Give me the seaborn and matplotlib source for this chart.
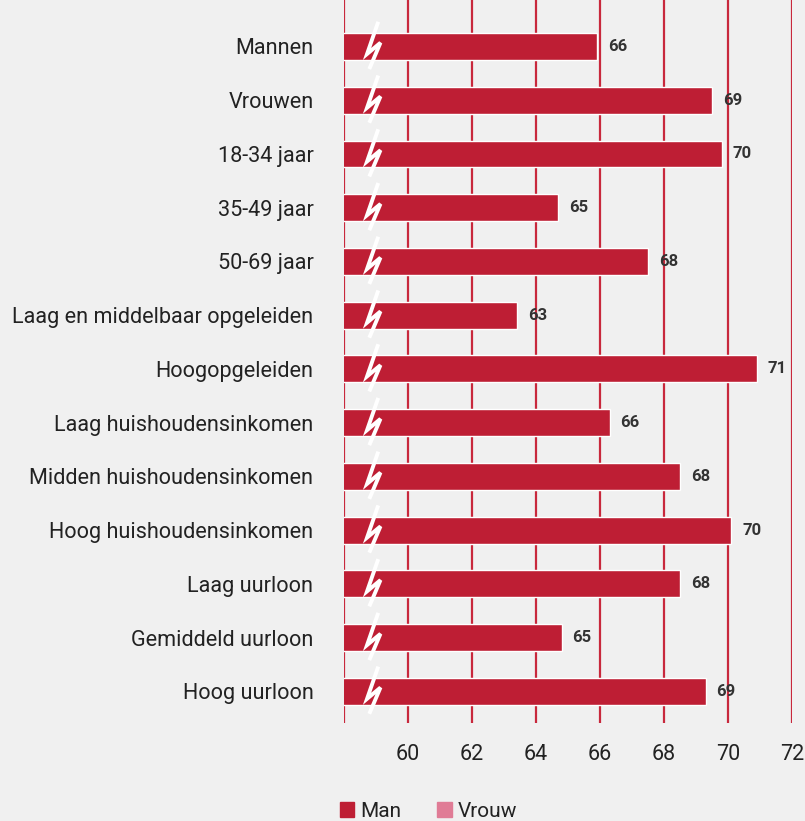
import matplotlib
matplotlib.use("Agg")
import matplotlib.pyplot as plt
from matplotlib.patches import Patch
import seaborn as sns
import pandas as pd

# data
categories = ["Mannen", "Vrouwen", "18-34 jaar", "35-49 jaar", "50-69 jaar",
              "Laag en middelbaar opgeleiden", "Hoogopgeleiden",
              "Laag huishoudensinkomen", "Midden huishoudensinkomen",
              "Hoog huishoudensinkomen", "Laag uurloon", "Gemiddeld uurloon",
              "Hoog uurloon"]
values = [65.9, 69.5, 69.8, 64.7, 67.5, 63.4, 70.9, 66.3, 68.5, 70.1, 68.5, 64.8, 69.3]
labels = [66, 69, 70, 65, 68, 63, 71, 66, 68, 70, 68, 65, 69]
ticks = [58, 60, 62, 64, 66, 68, 70, 72]
tick_labels = ["", "60", "62", "64", "66", "68", "70", "72"]
legend_names = ["Man", "Vrouw"]

red = "#be1e34"
pink = "#e07c96"
bg = "#f0f0f0"

sns.set_style("white")
plt.rcParams['font.family'] = ['Roboto', 'DejaVu Sans']

df = pd.DataFrame({"cat": categories, "val": values})

fig = plt.figure(figsize=(8.05, 8.21), dpi=100, facecolor=bg)
ax = fig.add_axes([344 / 805, 1 - 723 / 821, 448 / 805, 723 / 821])
ax.set_facecolor(bg)

sns.barplot(data=df, y="cat", x="val", orient="h", color=red, saturation=1,
            width=0.5, ax=ax, zorder=3)

ax.set_xlim(58, 72)
ax.set_ylim(12.59, -0.865)
ax.set_xticks(ticks)
ax.set_xticklabels(tick_labels)
ax.xaxis.grid(True, color="#c8283c", lw=1.6, zorder=0)
ax.set_axisbelow(True)
for s in ax.spines.values():
    s.set_visible(False)
ax.tick_params(axis="x", length=0, pad=15, labelsize=15.5, colors="#222222")
ax.tick_params(axis="y", length=0, pad=22, labelsize=15.6, colors="#222222")
ax.set_xlabel("")
ax.set_ylabel("")

# value labels
for i, (v, lab) in enumerate(zip(values, labels)):
    ax.text(v + 0.34, i, str(lab), va="center", ha="left", fontsize=12,
            fontweight="bold", color="#333333", zorder=5)

# axis break markers
zx = [59.07, 58.72, 59.14, 58.79]
zy = [-0.46, 0.14, -0.07, 0.42]
for i in range(len(categories)):
    ax.plot(zx, [i + d for d in zy], color="white", lw=2.8, zorder=4,
            solid_capstyle="butt", solid_joinstyle="miter")

handles = [Patch(color=red), Patch(color=pink)]
fig.legend(handles, legend_names, loc="center left",
           bbox_to_anchor=(321 / 805, 1 - 811 / 821), ncol=2, frameon=False,
           fontsize=15, handlelength=0.7, handleheight=0.7,
           handletextpad=0.3, columnspacing=1.7, labelcolor="#222222")

fig.savefig("out.png", dpi=100, facecolor=bg)
